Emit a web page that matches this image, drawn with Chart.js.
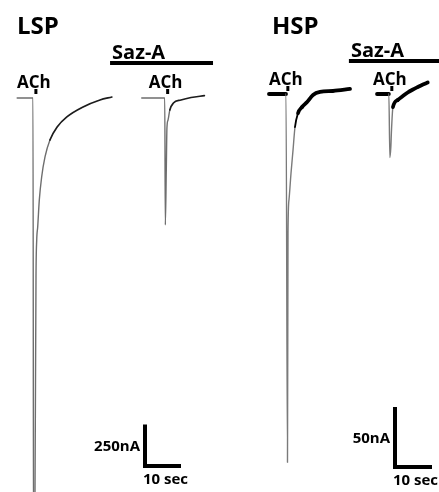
<!DOCTYPE html>
<html>
<head>
<meta charset="utf-8">
<script src="https://cdn.jsdelivr.net/npm/chart.js@4.4.0/dist/chart.umd.min.js"></script>
<style>
html, body { margin: 0; padding: 0; background: #fff; }
#wrap { position: relative; width: 439px; height: 492px; overflow: hidden; }
canvas { position: absolute; top: 0; }
#lsp { left: 0; }
#hsp { left: 220px; }
</style>
</head>
<body>
<div id="wrap">
  <canvas id="lsp" width="220" height="492"></canvas>
  <canvas id="hsp" width="219" height="492"></canvas>
</div>
<script>
// time in sec from the start of the ACh response, current in nA
var lspCtrlT = [-4.4, 0, 0.15, 0.55, 0.83, 1.03, 1.3, 1.75, 2.4, 3.33, 4.7, 6.7, 9.4, 13.9, 18.6, 21.9];
var lspCtrlI = [0, 0, -2900, -2373, -1078, -855, -777, -614, -476, -355, -253, -175, -114, -54, -12, 6];
var lspSazT = [-6.4, 0, 0.15, 0.42, 0.6, 0.9, 1.4, 2.4, 4.5, 7.3, 11];
var lspSazI = [0, 0, -765, -434, -181, -133, -72, -30, -12, 3, 14];

var hspCtrlT = [-4.6, 0, 0.4, 0.54, 0.81, 1.35, 1.89, 2.43, 3.24, 4.3, 5.7, 7.3, 9.2, 12.7, 17.3];
var hspCtrlI = [0, 0, -307, -116, -88, -66, -47, -27.5, -16, -11, -6.7, -0.8, 1.7, 2.5, 4.2];
var hspSazT = [-3.2, 0, 0.27, 0.54, 0.68, 0.95, 1.1, 2.4, 3.8, 5.1, 6.5, 7.8, 9.2, 10.5];
var hspSazI = [0, 0, -53, -44, -32.5, -16, -11, -5, -1.7, 1.25, 3.75, 5.8, 7.9, 9.6];

// when the Saz-A sweep starts, relative to the control sweep (sec)
var lspSazStart = 36.6;
var hspSazStart = 27.8;
// Saz-A application, sec
var lspSazBar = [21.4, 50];
var hspSazBar = [17.0, 45];
// ACh application marks, sec
var lspAch = [0.8, 37.4];
var hspAch = [0.5, 28.6];
// scale bars: sec, nA
var lspScale = [10, 250];
var hspScale = [10, 50];

function points(T, I, start) {
    return T.map(function (t, i) { return { x: t + start, y: I[i] }; });
}

function slope(c) {
    return Math.abs(c.p1.y - c.p0.y) / Math.max(0.01, Math.abs(c.p1.x - c.p0.x));
}

var overlay = {
    id: 'overlay',
    afterDatasetsDraw: function (chart, args, o) {
        var ctx = chart.ctx;
        var xs = chart.scales.x, ys = chart.scales.y;
        ctx.save();
        ctx.fillStyle = '#000';
        ctx.strokeStyle = '#000';
        ctx.textBaseline = 'alphabetic';

        ctx.font = 'bold 24px "Open Sans"';
        ctx.textAlign = 'left';
        ctx.fillText(o.title, o.titleX, 34);

        // Saz-A bar
        var b0 = xs.getPixelForValue(o.saz[0]), b1 = xs.getPixelForValue(o.saz[1]);
        ctx.fillRect(b0, o.sazY - 2, b1 - b0, 4);
        ctx.font = 'bold 20px "Open Sans"';
        ctx.fillText('Saz-A', b0 + 2, o.sazY - 4);

        // ACh marks
        ctx.font = 'bold 17px "Open Sans"';
        ctx.textAlign = 'center';
        o.ach.forEach(function (t) {
            var px = xs.getPixelForValue(t);
            ctx.fillRect(px - 1.5, o.achY, 3, 5);
            ctx.fillText('ACh', px - 2, o.achY - 1);
        });

        // scale bar
        var w = xs.getPixelForValue(o.bar[0]) - xs.getPixelForValue(0);
        var h = ys.getPixelForValue(0) - ys.getPixelForValue(o.bar[1]);
        ctx.lineWidth = 4;
        ctx.lineJoin = 'miter';
        ctx.beginPath();
        ctx.moveTo(o.barX, o.barY - h);
        ctx.lineTo(o.barX, o.barY);
        ctx.lineTo(o.barX + w, o.barY);
        ctx.stroke();
        ctx.font = 'bold 15px "Open Sans"';
        ctx.textAlign = 'right';
        ctx.fillText(o.bar[1] + 'nA', o.barX - 5, o.barY - h / 2 + 6);
        ctx.textAlign = 'left';
        ctx.fillText(o.bar[0] + ' sec', o.barX - 2, o.barY + 18);
        ctx.restore();
    }
};

function makeChart(id, sets, xr, yr, seg, o) {
    return new Chart(document.getElementById(id), {
        type: 'line',
        data: {
            datasets: sets.map(function (d) {
                return {
                    data: d, pointRadius: 0, cubicInterpolationMode: 'monotone', fill: false,
                    borderCapStyle: 'round', borderJoinStyle: 'round', segment: seg
                };
            })
        },
        options: {
            responsive: false,
            animation: false,
            events: [],
            layout: { padding: 0 },
            scales: {
                x: { type: 'linear', display: false, min: xr[0], max: xr[1] },
                y: { type: 'linear', display: false, min: yr[0], max: yr[1] }
            },
            plugins: { legend: { display: false }, tooltip: { enabled: false }, overlay: o }
        },
        plugins: [overlay]
    });
}

makeChart('lsp',
    [points(lspCtrlT, lspCtrlI, 0), points(lspSazT, lspSazI, lspSazStart)],
    [-9.17, 51.94], [-2373.5, 590.4],
    {
        borderColor: function (c) { return (c.p0DataIndex === 0 || slope(c) > 3) ? '#6e6e6e' : '#1c1c1c'; },
        borderWidth: function (c) { return (c.p0DataIndex === 0 || slope(c) > 3) ? 1.4 : 1.7; }
    },
    { title: 'LSP', titleX: 17, saz: lspSazBar, sazY: 63, ach: lspAch, achY: 89, bar: lspScale, barX: 145, barY: 466 });

makeChart('hsp',
    [points(hspCtrlT, hspCtrlI, 0), points(hspSazT, hspSazI, hspSazStart)],
    [-17.84, 41.35], [-331.67, 78.33],
    {
        borderColor: function (c) { return (c.p0DataIndex !== 0 && slope(c) > 6) ? '#7a7a7a' : '#000'; },
        borderWidth: function (c) {
            if (c.p0DataIndex === 0) return 3.8;
            return Math.max(1.4, Math.min(3.8, 4.6 - 0.6 * slope(c)));
        }
    },
    { title: 'HSP', titleX: 52, saz: hspSazBar, sazY: 61, ach: hspAch, achY: 86, bar: hspScale, barX: 175, barY: 467 });
</script>
</body>
</html>
